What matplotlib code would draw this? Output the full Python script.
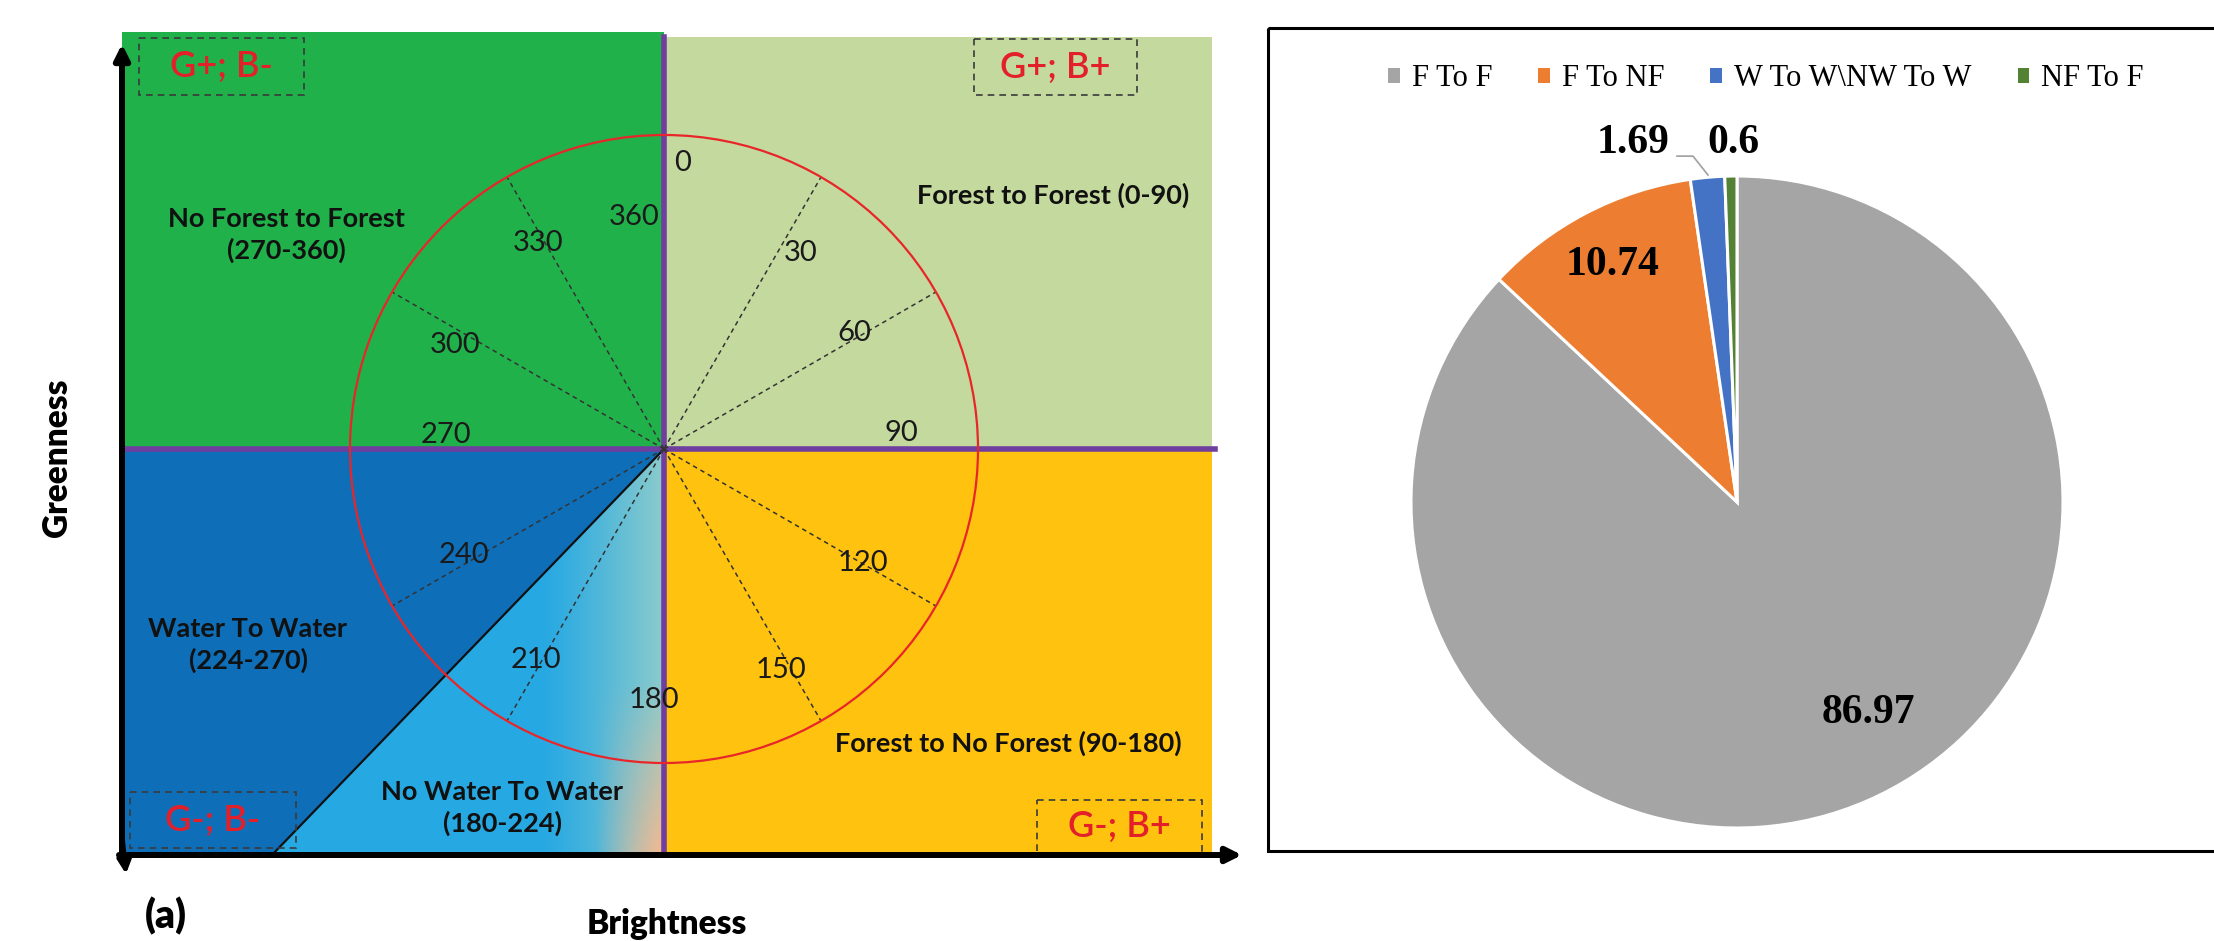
import numpy as np
import matplotlib
matplotlib.use("Agg")
import matplotlib.pyplot as plt
from matplotlib.patches import Rectangle, Polygon, Circle, Patch

W, H = 2214, 941

# right panel: share of each change class (%)
categories = ["F To F", "F To NF", "W To W\\NW To W", "NF To F"]
shares = [86.97, 10.74, 1.69, 0.6]
pie_colors = ["#A5A5A5", "#ED7D31", "#4472C4", "#548235"]

# left panel: change-direction angles (degrees, clockwise from the greenness axis)
angle_ticks = [0, 30, 60, 90, 120, 150, 180, 210, 240, 270, 300, 330, 360]
spoke_angles = [30, 60, 120, 150, 210, 240, 300, 330]
water_split = 224
class_names = ["Forest to Forest (0-90)", "Forest to No Forest (90-180)",
               "No Water To Water\n(180-224)", "Water To Water\n(224-270)",
               "No Forest to Forest\n(270-360)"]
quadrant_tags = ["G+; B+", "G-; B+", "G-; B-", "G+; B-"]

# layout in pixels
cx, cy, rad = 664, 449, 314
x0, x1, y_top, y_bot = 122, 1212, 32, 855

tick_xy = {0: (683, 163), 30: (801, 253), 60: (854, 333), 90: (901, 433),
           120: (863, 563), 150: (781, 670), 180: (654, 700), 210: (536, 660),
           240: (464, 555), 270: (446, 435), 300: (455, 345), 330: (538, 243),
           360: (634, 217)}
class_xy = [(1053, 195), (1008, 743), (502, 808), (248, 645), (286, 235)]
tag_boxes = [(974, 39, 1137, 95), (1037, 800, 1202, 853),
             (130, 792, 296, 848), (139, 38, 304, 95)]

fig = plt.figure(figsize=(W / 100, H / 100), dpi=100)
bg = fig.add_axes([0, 0, 1, 1])
bg.set_xlim(0, W)
bg.set_ylim(H, 0)
bg.axis("off")

# quadrant fills
bg.add_patch(Rectangle((x0, y_top), cx - x0, cy - y_top, color="#21B14B", lw=0))
bg.add_patch(Rectangle((cx, 37), x1 - cx, cy - 37, color="#C4D99E", lw=0))
bg.add_patch(Rectangle((x0, cy), cx - x0, y_bot - cy, color="#0E6EB8", lw=0))
bg.add_patch(Rectangle((cx, cy), x1 - cx, y_bot - cy, color="#FFC20F", lw=0))

# no-water-to-water wedge with its colour ramp
th = np.radians(water_split)
xb = cx + np.sin(th) * (y_bot - cy) / (-np.cos(th))
tri = Polygon([(cx, cy), (xb, y_bot), (cx, y_bot)], closed=True,
              facecolor="none", edgecolor="none")
bg.add_patch(tri)
gx = np.linspace(xb, cx, 300)
gy = np.linspace(cy, y_bot, 300)
X, Y = np.meshgrid(gx, gy)
cyan = np.array([0.15, 0.66, 0.89])
teal = np.array([0.55, 0.80, 0.80])
peach = np.array([0.97, 0.72, 0.55])
t = np.clip((X - 540) / 124, 0, 1)[..., None] ** 1.2
s = (np.clip((X - 595) / 69, 0, 1) * np.clip((Y - 680) / 175, 0, 1))[..., None]
rgb = cyan * (1 - t) + teal * t
rgb = rgb * (1 - s) + peach * s
im = bg.imshow(rgb, extent=(xb, cx, y_bot, cy), origin="upper",
               aspect="auto", interpolation="bilinear", zorder=1)
im.set_clip_path(tri)
bg.plot([cx, xb], [cy, y_bot], color="#111111", lw=1.6, zorder=3)

# quadrant dividers
bg.plot([cx, cx], [37, y_bot], color="#6F3E9E", lw=4.0, zorder=4)
bg.plot([x0, x1 + 3], [cy, cy], color="#6F3E9E", lw=4.0, zorder=4)

# direction circle and spokes
bg.add_patch(Circle((cx, cy), rad, fill=False, edgecolor="#E8262A", lw=1.6, zorder=5))
for a in spoke_angles:
    r = np.radians(a)
    bg.plot([cx, cx + rad * np.sin(r)], [cy, cy - rad * np.cos(r)],
            color="#333333", lw=1.1, ls=(0, (3, 2.5)), zorder=4)

for a in angle_ticks:
    bg.text(*tick_xy[a], str(a), fontsize=21, family="Lato",
            ha="center", va="center", color="#1a1a1a", zorder=6)

for name, (tx, ty) in zip(class_names, class_xy):
    bg.text(tx, ty, name, fontsize=19.5, family="Lato", fontweight="bold",
            ha="center", va="center", linespacing=1.35, color="#111111", zorder=6)

for tag, (bx0, by0, bx1, by1) in zip(quadrant_tags, tag_boxes):
    bg.add_patch(Rectangle((bx0, by0), bx1 - bx0, by1 - by0, fill=False,
                           edgecolor="#3a3a3a", lw=1.2, ls=(0, (4, 3)), zorder=6))
    bg.text((bx0 + bx1) / 2, (by0 + by1) / 2, tag, fontsize=26, family="Lato",
            fontweight="semibold", color="#E3202A", ha="center", va="center",
            zorder=7)

# greenness / brightness axes
bg.annotate("", xy=(x0, 44), xytext=(x0, y_bot + 2),
            arrowprops=dict(arrowstyle="-|>,head_length=0.9,head_width=0.45",
                            lw=4.3, color="black", shrinkA=0, shrinkB=0), zorder=8)
bg.annotate("", xy=(1242, y_bot), xytext=(x0 - 3, y_bot),
            arrowprops=dict(arrowstyle="-|>,head_length=0.9,head_width=0.45",
                            lw=4.3, color="black", shrinkA=0, shrinkB=0), zorder=8)
bg.annotate("", xy=(126, 874), xytext=(x0, 835),
            arrowprops=dict(arrowstyle="-|>,head_length=0.8,head_width=0.4",
                            lw=3.5, color="black", shrinkA=0, shrinkB=0), zorder=8)

bg.text(57, 458, "Greenness", rotation=90, fontsize=24, family="Lato",
        fontweight="heavy", ha="center", va="center")
bg.text(667, 924, "Brightness", fontsize=24, family="Lato",
        fontweight="heavy", ha="center", va="center")
bg.text(166, 916, "(a)", fontsize=28, family="Lato",
        fontweight="heavy", ha="center", va="center")

# pie panel frame
bg.add_patch(Rectangle((1268, 28), 980, 823, fill=False, edgecolor="black",
                       lw=2.2, zorder=2))

pcx, pcy, prad, half = 1737, 502, 326, 380
pax = fig.add_axes([(pcx - half) / W, (H - pcy - half) / H, 2 * half / W, 2 * half / H])
wedges, _ = pax.pie(shares, colors=pie_colors, startangle=90, counterclock=False,
                    wedgeprops=dict(edgecolor="white", linewidth=2.2))
lim = half / prad
pax.set_xlim(-lim, lim)
pax.set_ylim(-lim, lim)
pax.set_aspect("equal")
pax.axis("off")

label_xy = [(0.402, -0.647), (-0.383, 0.727), (-0.319, 1.101), (-0.012, 1.101)]
for v, (lx, ly) in zip(shares, label_xy):
    pax.text(lx, ly, f"{v:g}", fontsize=30, family="Liberation Serif",
             fontweight="bold", ha="center", va="center")
pax.plot([-0.184, -0.135, -0.089], [1.061, 1.061, 1.003], color="#A0A0A0",
         lw=1.2, clip_on=False)

handles = [Patch(facecolor=c, edgecolor="none") for c in pie_colors]
fig.legend(handles, categories, loc="center left", ncol=4,
           bbox_to_anchor=(1388 / W, 1 - 79 / H), frameon=False,
           prop=dict(family="Liberation Serif", size=22),
           handlelength=0.38, handleheight=0.38, handletextpad=0.4,
           columnspacing=1.5, borderpad=0, borderaxespad=0)

fig.savefig("out.png", dpi=100, facecolor="white")
